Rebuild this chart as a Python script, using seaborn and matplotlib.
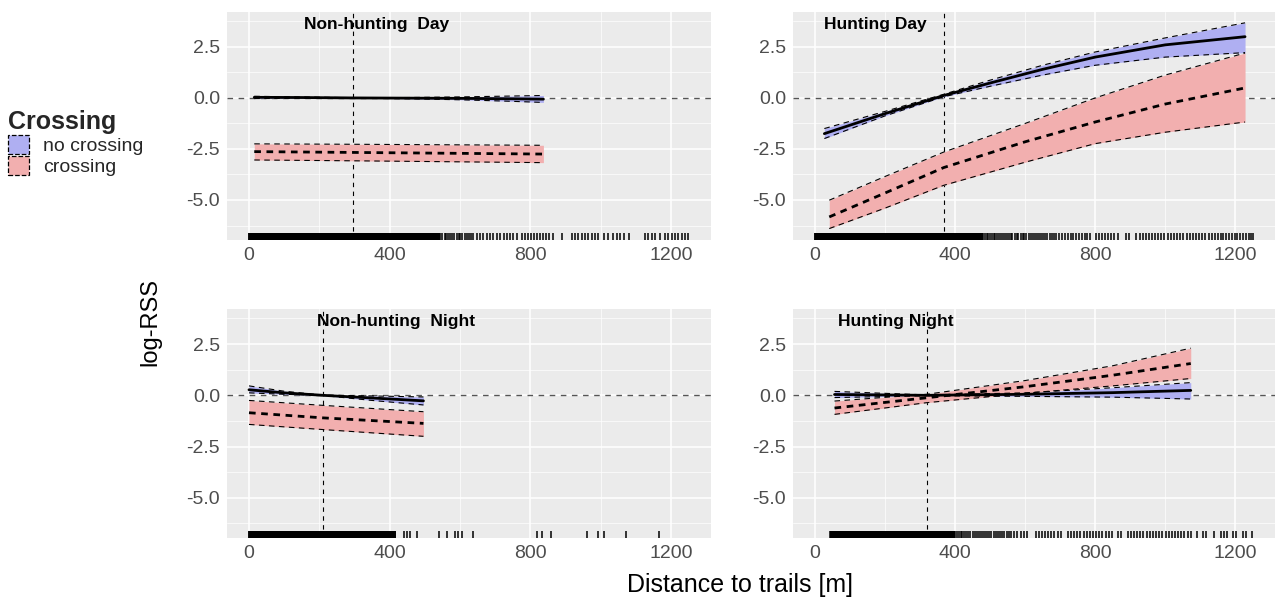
import numpy as np
import matplotlib
matplotlib.use("Agg")
import matplotlib.pyplot as plt
import seaborn as sns
from matplotlib.patches import Patch

sns.set_theme(style="darkgrid")
plt.rcParams["font.family"] = ["Liberation Sans", "DejaVu Sans"]
plt.rcParams["axes.unicode_minus"] = False

# ---------------- data ----------------
# Non-hunting Day
nhd_x_nc = [15, 150, 297, 450, 600, 737, 837]
nhd_m_nc = [0.03, 0.02, 0.0, -0.01, -0.02, -0.04, -0.06]
nhd_lo_nc = [-0.03, -0.02, -0.01, -0.04, -0.09, -0.16, -0.22]
nhd_hi_nc = [0.08, 0.05, 0.01, 0.02, 0.05, 0.09, 0.12]
nhd_x_c = [15, 297, 837]
nhd_m_c = [-2.63, -2.67, -2.75]
nhd_lo_c = [-3.04, -3.08, -3.17]
nhd_hi_c = [-2.25, -2.27, -2.32]
nhd_ref = 297
nhd_rug_dense = (0, 543)
nhd_rug = [550, 556, 561, 567, 572, 578, 584, 590, 596, 601, 607, 613, 620, 626,
           632, 638, 647, 656, 666, 676, 686, 694, 705, 714, 724, 733, 742, 752,
           762, 775, 785, 794, 802, 810, 818, 827, 836, 845, 853, 865, 889, 917,
           926, 936, 946, 955, 965, 974, 984, 993, 1008, 1022, 1036, 1046, 1055,
           1067, 1079, 1126, 1135, 1145, 1154, 1168, 1183, 1192, 1202, 1211,
           1220, 1230, 1240, 1249]

# Hunting Day
hd_x_nc = [27, 200, 368, 500, 650, 800, 1000, 1228]
hd_m_nc = [-1.75, -0.77, 0.12, 0.73, 1.40, 2.00, 2.60, 3.00]
hd_lo_nc = [-1.99, -0.88, 0.06, 0.57, 1.12, 1.60, 2.00, 2.22]
hd_hi_nc = [-1.50, -0.66, 0.18, 0.87, 1.60, 2.25, 2.94, 3.68]
hd_x_c = [41, 200, 368, 600, 800, 1000, 1228]
hd_m_c = [-5.83, -4.66, -3.41, -2.15, -1.18, -0.30, 0.49]
hd_lo_c = [-6.40, -5.40, -4.28, -3.15, -2.24, -1.68, -1.18]
hd_hi_c = [-5.01, -3.85, -2.65, -1.25, 0.00, 1.12, 2.20]
hd_ref = 368
hd_rug_dense = (0, 480)
hd_rug = [485, 490, 495, 500, 505, 510, 515, 520, 526, 531, 537, 542, 548, 553,
          559, 564, 570, 576, 581, 587, 593, 598, 604, 610, 616, 622, 628, 634,
          640, 646, 652, 658, 664, 670, 676, 682, 688, 697, 706, 714, 722, 730,
          738, 746, 754, 762, 770, 778, 785, 803, 812, 820, 829, 838, 846, 855,
          864, 888, 897, 918, 927, 936, 945, 953, 962, 971, 980, 989, 998, 1007,
          1016, 1025, 1034, 1043, 1052, 1061, 1070, 1079, 1088, 1097, 1106,
          1115, 1124, 1133, 1142, 1150, 1158, 1166, 1174, 1182, 1190, 1198,
          1206, 1214, 1222, 1230, 1238, 1246, 1252]

# Non-hunting Night
nhn_x_nc = [0, 100, 210, 350, 496]
nhn_m_nc = [0.27, 0.12, 0.0, -0.13, -0.27]
nhn_lo_nc = [0.12, 0.05, -0.01, -0.25, -0.47]
nhn_hi_nc = [0.46, 0.20, 0.01, -0.03, -0.08]
nhn_x_c = [0, 210, 496]
nhn_m_c = [-0.85, -1.10, -1.37]
nhn_lo_c = [-1.42, -1.67, -2.00]
nhn_hi_c = [-0.25, -0.49, -0.80]
nhn_ref = 210
nhn_rug_dense = (0, 417)
nhn_rug = [441, 448, 458, 477, 540, 562, 586, 595, 607, 638, 818, 832, 858,
           960, 993, 1008, 1072, 1167]

# Hunting Night
hn_x_nc = [56, 319, 600, 850, 1073]
hn_m_nc = [0.04, 0.0, 0.05, 0.13, 0.24]
hn_lo_nc = [-0.11, -0.02, -0.05, -0.09, -0.18]
hn_hi_nc = [0.19, 0.02, 0.12, 0.37, 0.62]
hn_x_c = [56, 319, 600, 850, 1073]
hn_m_c = [-0.62, -0.12, 0.42, 0.98, 1.55]
hn_lo_c = [-0.93, -0.36, 0.10, 0.46, 0.82]
hn_hi_c = [-0.28, 0.05, 0.72, 1.44, 2.30]
hn_ref = 319
hn_rug_dense = (44, 400)
hn_rug = [405, 410, 416, 421, 427, 432, 438, 444, 450, 456, 462, 468, 474, 480,
          486, 492, 498, 504, 510, 516, 522, 528, 534, 540, 547, 554, 561, 568,
          578, 587, 596, 605, 630, 639, 648, 657, 666, 675, 684, 693, 702, 722,
          731, 740, 749, 758, 767, 776, 785, 794, 803, 812, 821, 830, 839, 848,
          866, 875, 893, 902, 911, 920, 929, 938, 947, 956, 965, 974, 983, 992,
          1001, 1010, 1019, 1028, 1037, 1046, 1055, 1064, 1073, 1090, 1108, 1117,
          1140, 1158, 1167, 1176, 1194, 1203, 1221, 1230, 1247]

titles = ["Non-hunting  Day", "Hunting Day", "Non-hunting  Night", "Hunting Night"]
title_x = [155, 26, 192, 65]
legend_labels = ["no crossing", "crossing"]
x_ticks = [0, 400, 800, 1200]
y_ticks = [-5.0, -2.5, 0.0, 2.5]

# ---------------- styling ----------------
BLUE = "#AFAFF2"
RED = "#F2AFAF"
BG = "#EBEBEB"
W, H = 1276, 598

fig = plt.figure(figsize=(W / 100, H / 100), dpi=100)

def px_axes(l, t, r, b):
    return fig.add_axes([l / W, (H - b) / H, (r - l) / W, (b - t) / H])

axes = [px_axes(227, 12, 711, 240), px_axes(793, 12, 1275, 240),
        px_axes(227, 309, 711, 538), px_axes(793, 309, 1275, 538)]

panels = [
    (nhd_x_nc, nhd_m_nc, nhd_lo_nc, nhd_hi_nc, nhd_x_c, nhd_m_c, nhd_lo_c, nhd_hi_c, nhd_ref, nhd_rug_dense, nhd_rug),
    (hd_x_nc, hd_m_nc, hd_lo_nc, hd_hi_nc, hd_x_c, hd_m_c, hd_lo_c, hd_hi_c, hd_ref, hd_rug_dense, hd_rug),
    (nhn_x_nc, nhn_m_nc, nhn_lo_nc, nhn_hi_nc, nhn_x_c, nhn_m_c, nhn_lo_c, nhn_hi_c, nhn_ref, nhn_rug_dense, nhn_rug),
    (hn_x_nc, hn_m_nc, hn_lo_nc, hn_hi_nc, hn_x_c, hn_m_c, hn_lo_c, hn_hi_c, hn_ref, hn_rug_dense, hn_rug),
]

ci_style = dict(color="black", lw=0.8, linestyle=(0, (5, 4)))

for ax, p, title, tx in zip(axes, panels, titles, title_x):
    x_nc, m_nc, lo_nc, hi_nc, x_c, m_c, lo_c, hi_c, ref, dense, rug = p
    ax.set_facecolor(BG)
    ax.fill_between(x_nc, lo_nc, hi_nc, color=BLUE, lw=0, zorder=2)
    ax.fill_between(x_c, lo_c, hi_c, color=RED, lw=0, zorder=2)
    for yy in (lo_nc, hi_nc):
        sns.lineplot(x=x_nc, y=yy, ax=ax, zorder=3, **ci_style)
    for yy in (lo_c, hi_c):
        sns.lineplot(x=x_c, y=yy, ax=ax, zorder=3, **ci_style)
    sns.lineplot(x=x_nc, y=m_nc, ax=ax, color="black", lw=2.0, zorder=4)
    sns.lineplot(x=x_c, y=m_c, ax=ax, color="black", lw=2.0,
                 linestyle=(0, (2.4, 2.0)), zorder=4)
    ax.axhline(0, color="#555555", lw=1.0, ls=(0, (4, 4)), zorder=1.5)
    ax.axvline(ref, color="black", lw=0.8, ls=(0, (4, 4)), zorder=1.5)
    rug_vals = list(np.arange(dense[0], dense[1], 1.0)) + rug
    sns.rugplot(x=rug_vals, ax=ax, height=0.032, color="black", linewidth=1.1,
                expand_margins=False)
    ax.text(tx, 3.6, title, fontsize=12.5, fontweight="bold", ha="left",
            va="center", color="black", zorder=5)
    ax.set_xlim(-62.5, 1313.5)
    ax.set_ylim(-6.96, 4.21)
    ax.set_xticks(x_ticks)
    ax.set_xticks([200, 600, 1000], minor=True)
    ax.set_yticks(y_ticks)
    ax.set_yticks([-6.25, -3.75, -1.25, 1.25, 3.75], minor=True)
    ax.set_yticklabels([f"{v:.1f}" for v in y_ticks])
    ax.grid(which="major", color="white", lw=1.1)
    ax.grid(which="minor", color="white", lw=0.5)
    ax.tick_params(which="major", length=3, width=0.8, color="#333333",
                   labelsize=14, labelcolor="#4D4D4D", pad=2)
    ax.tick_params(which="minor", length=0)
    ax.set_xlabel("")
    ax.set_ylabel("")
    for s in ax.spines.values():
        s.set_visible(False)

fig.text(740 / W, 1 - 585 / H, "Distance to trails [m]", fontsize=18,
         ha="center", va="center", color="black")
fig.text(150 / W, 1 - 322 / H, "log-RSS", fontsize=17, rotation=90,
         ha="center", va="center", color="black")

handles = [Patch(facecolor=BLUE, edgecolor="black", linestyle="--", lw=0.9),
           Patch(facecolor=RED, edgecolor="black", linestyle="--", lw=0.9)]
leg = fig.legend(handles, legend_labels, loc="upper left",
                 bbox_to_anchor=(8 / W, 1 - 110 / H), frameon=False,
                 title="Crossing", alignment="left", fontsize=14,
                 title_fontproperties={"weight": "bold", "size": 18},
                 handlelength=1.1, handleheight=1.1, labelspacing=0.05,
                 handletextpad=0.7, borderpad=0, borderaxespad=0)

fig.savefig("out.png", dpi=100, facecolor="white")
